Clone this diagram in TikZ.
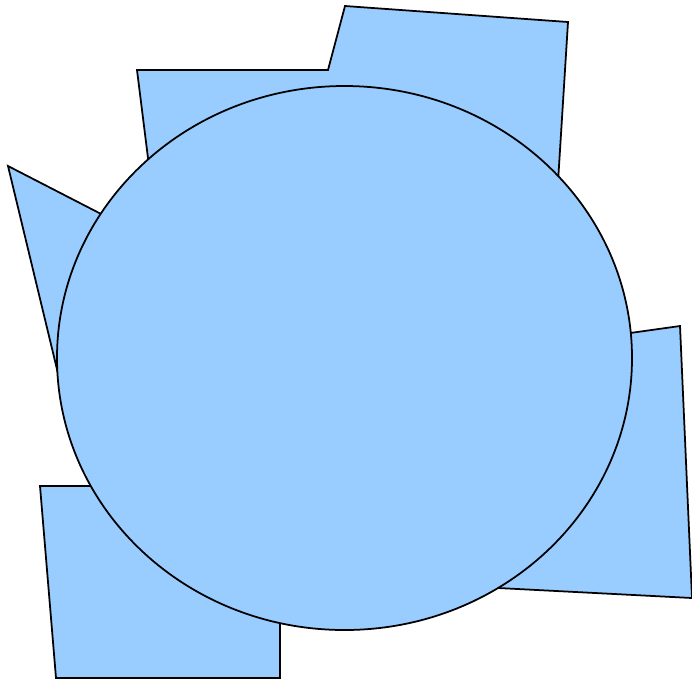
\documentclass[tikz,border=0pt]{standalone}
\usepackage{xcolor}
\usepackage{tikz}
\definecolor{blobcolor}{RGB}{153, 204, 255}
\begin{document}
\begin{tikzpicture}[x=0.02cm,y=-0.02cm,blob/.style={draw=black,fill=blobcolor,line width=1pt,line join=miter}]
\useasboundingbox (0,0) rectangle (692,681);
\draw[blob] (137,70) -- (328,70) -- (345,6) -- (568,22) -- (555,230) -- (157,230) -- cycle;
\draw[blob] (8,166) -- (140,234) -- (62,390) -- cycle;
\draw[blob] (580,340) -- (680,326) -- (692,598) -- (450,585.5) -- cycle;
\draw[blob] (40,486) -- (160,486) -- (280,580) -- (280,678) -- (56,678) -- cycle;
\draw[blob] (344.5,358) ellipse [x radius=287.5,y radius=272];
\end{tikzpicture}
\end{document}
